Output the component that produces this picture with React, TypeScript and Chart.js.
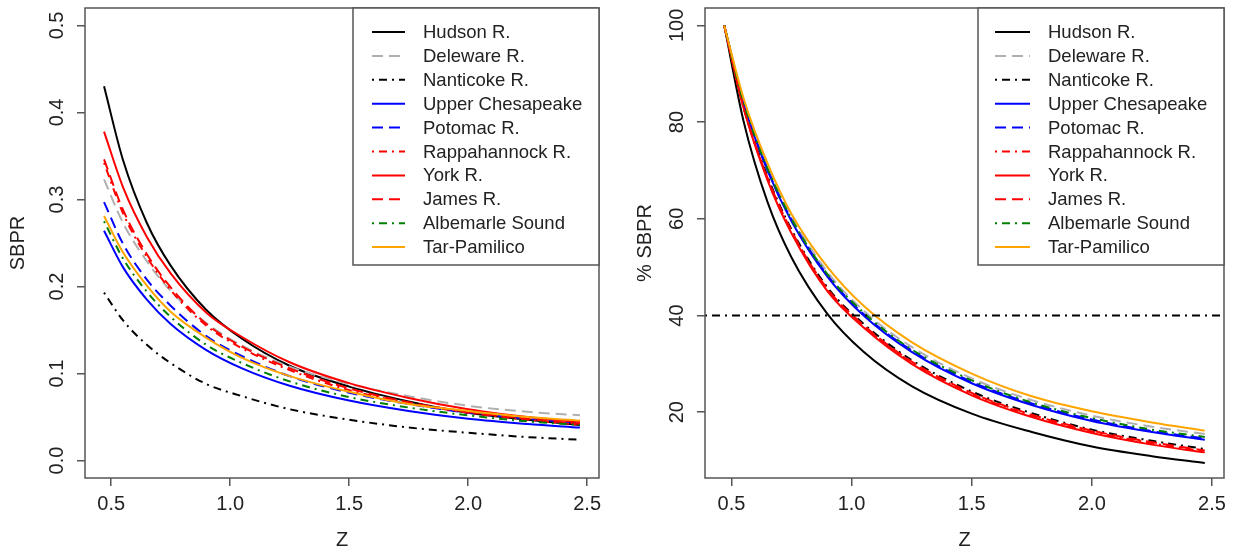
import React, { useEffect, useRef } from "react";
import { Chart, registerables } from "chart.js";

Chart.register(...registerables);

// ---------------- DATA ----------------
const Z_VALUES = [0.47, 0.55, 0.65, 0.75, 0.9, 1.05, 1.25, 1.5, 1.75, 2.0, 2.25, 2.47];

const SERIES_NAMES = [
  "Hudson R.",
  "Deleware R.",
  "Nanticoke R.",
  "Upper Chesapeake",
  "Potomac R.",
  "Rappahannock R.",
  "York R.",
  "James R.",
  "Albemarle Sound",
  "Tar-Pamilico",
];

// Left panel: SBPR
const SBPR_HUDSON = [0.43, 0.345, 0.273, 0.224, 0.173, 0.14, 0.109, 0.085, 0.068, 0.055, 0.047, 0.041];
const SBPR_DELEWARE = [0.323, 0.273, 0.229, 0.195, 0.158, 0.132, 0.108, 0.088, 0.074, 0.063, 0.056, 0.052];
const SBPR_NANTICOKE = [0.193, 0.161, 0.133, 0.112, 0.088, 0.074, 0.059, 0.047, 0.038, 0.032, 0.027, 0.024];
const SBPR_UPPER_CHES = [0.264, 0.222, 0.185, 0.157, 0.127, 0.106, 0.086, 0.069, 0.057, 0.048, 0.042, 0.038];
const SBPR_POTOMAC = [0.297, 0.249, 0.208, 0.178, 0.143, 0.12, 0.097, 0.078, 0.065, 0.055, 0.048, 0.043];
const SBPR_RAPPAHANNOCK = [0.342, 0.284, 0.234, 0.196, 0.155, 0.129, 0.104, 0.081, 0.066, 0.055, 0.047, 0.041];
const SBPR_YORK = [0.378, 0.314, 0.257, 0.215, 0.17, 0.142, 0.113, 0.089, 0.072, 0.059, 0.05, 0.044];
const SBPR_JAMES = [0.346, 0.288, 0.237, 0.199, 0.157, 0.131, 0.106, 0.083, 0.067, 0.056, 0.048, 0.042];
const SBPR_ALBEMARLE = [0.275, 0.232, 0.194, 0.165, 0.133, 0.112, 0.091, 0.073, 0.061, 0.052, 0.045, 0.041];
const SBPR_TAR = [0.281, 0.239, 0.201, 0.171, 0.141, 0.118, 0.097, 0.079, 0.065, 0.057, 0.05, 0.046];

// Right panel: % SBPR
const PCT_HUDSON = [100, 80.3, 63.5, 52.0, 40.3, 32.5, 25.4, 19.7, 15.9, 12.9, 10.9, 9.5];
const PCT_DELEWARE = [100, 84.5, 71, 60.5, 49, 41, 33.5, 27, 22.5, 19.3, 17, 15.5];
const PCT_NANTICOKE = [100, 83.3, 68.8, 57.8, 45.8, 38.3, 30.8, 24.3, 19.8, 16.4, 14.1, 12.4];
const PCT_UPPER_CHES = [100, 84, 70, 59.5, 48, 40, 32.5, 26, 21.5, 18.2, 15.9, 14.3];
const PCT_POTOMAC = [100, 84, 70.2, 59.8, 48.3, 40.3, 32.8, 26.3, 21.8, 18.5, 16.1, 14.6];
const PCT_RAPPAHANNOCK = [100, 83.1, 68.3, 57.3, 45.3, 37.8, 30.3, 23.8, 19.3, 16.0, 13.6, 11.9];
const PCT_YORK = [100, 83, 68, 57, 45, 37.5, 30, 23.5, 19, 15.7, 13.3, 11.7];
const PCT_JAMES = [100, 83.2, 68.5, 57.5, 45.5, 38, 30.5, 24, 19.5, 16.2, 13.8, 12.1];
const PCT_ALBEMARLE = [100, 84.2, 70.5, 60, 48.5, 40.6, 33, 26.6, 22, 18.8, 16.4, 14.9];
const PCT_TAR = [100, 85, 71.5, 61, 50, 42, 34.5, 28, 23.3, 20.2, 17.9, 16.2];

const REFERENCE_PCT = 40;

const X_TICKS = [0.5, 1.0, 1.5, 2.0, 2.5];
const LEFT_Y_TICKS = [0.0, 0.1, 0.2, 0.3, 0.4, 0.5];
const RIGHT_Y_TICKS = [20, 40, 60, 80, 100];

// ---------------- STYLES ----------------
const FONT = '"Liberation Sans", Arial, Helvetica, sans-serif';
const SOLID: number[] = [];
const DASHED = [11, 6];
const DASHDOT = [2, 5, 8, 5];

const SERIES_COLORS = [
  "#000000",
  "#b0b0b0",
  "#000000",
  "#0000ff",
  "#0000ff",
  "#ff0000",
  "#ff0000",
  "#ff0000",
  "#008000",
  "#ffa500",
];
const SERIES_DASHES = [SOLID, DASHED, DASHDOT, SOLID, DASHED, DASHDOT, SOLID, DASHED, DASHDOT, SOLID];

const LEFT_SERIES = [
  SBPR_HUDSON,
  SBPR_DELEWARE,
  SBPR_NANTICOKE,
  SBPR_UPPER_CHES,
  SBPR_POTOMAC,
  SBPR_RAPPAHANNOCK,
  SBPR_YORK,
  SBPR_JAMES,
  SBPR_ALBEMARLE,
  SBPR_TAR,
];
const RIGHT_SERIES = [
  PCT_HUDSON,
  PCT_DELEWARE,
  PCT_NANTICOKE,
  PCT_UPPER_CHES,
  PCT_POTOMAC,
  PCT_RAPPAHANNOCK,
  PCT_YORK,
  PCT_JAMES,
  PCT_ALBEMARLE,
  PCT_TAR,
];

type Panel = {
  series: number[][];
  yMin: number;
  yMax: number;
  yTicks: number[];
  yDecimals: number;
  yTitle: string;
  yTitleOffset: number;
  refLevel: number | null;
  canvasWidth: number;
  leftWidth: number;
  rightPad: number;
  legendTextX: number;
  legendLineX0: number;
  legendLineX1: number;
};

function makePlugin(p: Panel) {
  return {
    id: "rplot",
    afterDatasetsDraw(chart: any) {
      if (p.refLevel == null) return;
      const { ctx, chartArea: a } = chart;
      const y = chart.scales.y.getPixelForValue(p.refLevel);
      ctx.save();
      ctx.strokeStyle = "#000";
      ctx.lineWidth = 2;
      ctx.setLineDash(DASHDOT);
      ctx.beginPath();
      ctx.moveTo(a.left, y);
      ctx.lineTo(a.right, y);
      ctx.stroke();
      ctx.restore();
    },
    afterDraw(chart: any) {
      const { ctx, chartArea: a } = chart;
      ctx.save();
      ctx.setLineDash([]);
      // frame
      ctx.strokeStyle = "#555";
      ctx.lineWidth = 1.5;
      ctx.strokeRect(a.left, a.top, a.right - a.left, a.bottom - a.top);

      // y tick labels (rotated like R)
      ctx.fillStyle = "#222";
      ctx.font = `20px ${FONT}`;
      ctx.textAlign = "center";
      ctx.textBaseline = "middle";
      for (const v of p.yTicks) {
        const py = chart.scales.y.getPixelForValue(v);
        ctx.save();
        ctx.translate(a.left - 28, py);
        ctx.rotate(-Math.PI / 2);
        ctx.fillText(v.toFixed(p.yDecimals), 0, 0);
        ctx.restore();
      }
      // y title
      ctx.save();
      ctx.translate(a.left - p.yTitleOffset, (a.top + a.bottom) / 2);
      ctx.rotate(-Math.PI / 2);
      ctx.fillText(p.yTitle, 0, 0);
      ctx.restore();
      // x title
      ctx.fillText("Z", (a.left + a.right) / 2, 540);

      // legend
      const boxW = 246;
      const boxH = 257;
      const bx = a.right - boxW;
      const by = a.top;
      ctx.fillStyle = "#fff";
      ctx.fillRect(bx, by, boxW, boxH);
      ctx.strokeStyle = "#555";
      ctx.lineWidth = 1.5;
      ctx.strokeRect(bx, by, boxW, boxH);
      ctx.font = `18.5px ${FONT}`;
      ctx.textAlign = "left";
      ctx.textBaseline = "middle";
      SERIES_NAMES.forEach((name, i) => {
        const ry = by + 24 + i * 23.9;
        ctx.save();
        ctx.strokeStyle = SERIES_COLORS[i];
        ctx.lineWidth = 2;
        ctx.setLineDash(SERIES_DASHES[i]);
        ctx.beginPath();
        ctx.moveTo(bx + p.legendLineX0, ry);
        ctx.lineTo(bx + p.legendLineX1, ry);
        ctx.stroke();
        ctx.restore();
        ctx.fillStyle = "#222";
        ctx.fillText(name, bx + p.legendTextX, ry + 1);
      });
      ctx.restore();
    },
  };
}

function ChartPanel({ panel, left }: { panel: Panel; left: number }) {
  const ref = useRef<HTMLCanvasElement | null>(null);
  useEffect(() => {
    if (!ref.current) return;
    const datasets = panel.series.map((vals, i) => ({
      label: SERIES_NAMES[i],
      data: Z_VALUES.map((z, k) => ({ x: z, y: vals[k] })),
      borderColor: SERIES_COLORS[i],
      borderDash: SERIES_DASHES[i],
      borderWidth: 2,
      pointRadius: 0,
      fill: false,
      cubicInterpolationMode: "monotone" as const,
      order: -i,
    }));
    const axisGrid = {
      display: true,
      drawOnChartArea: false,
      drawTicks: true,
      tickLength: 8,
      color: "#555",
      lineWidth: 1.5,
    };
    const chart = new Chart(ref.current, {
      type: "line",
      data: { datasets },
      plugins: [makePlugin(panel)],
      options: {
        animation: false,
        responsive: false,
        maintainAspectRatio: false,
        layout: { padding: { top: 8, right: panel.rightPad, left: 0, bottom: 0 } },
        plugins: { legend: { display: false }, tooltip: { enabled: false } },
        scales: {
          x: {
            type: "linear",
            min: 0.39,
            max: 2.55,
            border: { display: false },
            grid: axisGrid,
            afterBuildTicks: (axis: any) => {
              axis.ticks = X_TICKS.map((v) => ({ value: v }));
            },
            afterFit: (scale: any) => {
              scale.height = 74;
            },
            ticks: {
              color: "#222",
              font: { size: 20, family: FONT },
              padding: 6,
              maxRotation: 0,
              callback: (v: any) => Number(v).toFixed(1),
            },
          },
          y: {
            type: "linear",
            min: panel.yMin,
            max: panel.yMax,
            border: { display: false },
            grid: axisGrid,
            afterBuildTicks: (axis: any) => {
              axis.ticks = panel.yTicks.map((v) => ({ value: v }));
            },
            afterFit: (scale: any) => {
              scale.width = panel.leftWidth;
            },
            ticks: { display: false },
          },
        },
      },
    });
    return () => chart.destroy();
  }, [panel]);
  return (
    <canvas
      ref={ref}
      width={panel.canvasWidth}
      height={552}
      style={{ position: "absolute", left, top: 0, width: panel.canvasWidth, height: 552 }}
    />
  );
}

const LEFT_PANEL: Panel = {
  series: LEFT_SERIES,
  yMin: -0.02,
  yMax: 0.52,
  yTicks: LEFT_Y_TICKS,
  yDecimals: 1,
  yTitle: "SBPR",
  yTitleOffset: 67,
  refLevel: null,
  canvasWidth: 617,
  leftWidth: 85,
  rightPad: 18,
  legendTextX: 70,
  legendLineX0: 19,
  legendLineX1: 52,
};

const RIGHT_PANEL: Panel = {
  series: RIGHT_SERIES,
  yMin: 6.4,
  yMax: 103.6,
  yTicks: RIGHT_Y_TICKS,
  yDecimals: 0,
  yTitle: "% SBPR",
  yTitleOffset: 60,
  refLevel: REFERENCE_PCT,
  canvasWidth: 618,
  leftWidth: 88,
  rightPad: 11,
  legendTextX: 70,
  legendLineX0: 17,
  legendLineX1: 52,
};

export default function App() {
  return (
    <div style={{ position: "absolute", left: 0, top: 0, width: 1235, height: 552, background: "#fff" }}>
      <ChartPanel panel={LEFT_PANEL} left={0} />
      <ChartPanel panel={RIGHT_PANEL} left={617} />
    </div>
  );
}
